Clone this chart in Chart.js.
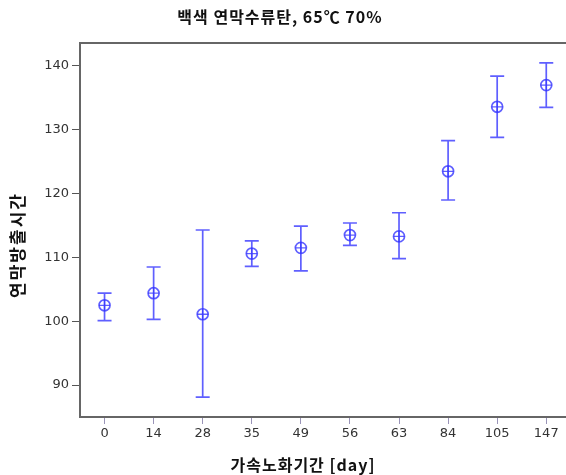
<!DOCTYPE html>
<html>
<head>
<meta charset="utf-8">
<script src="https://cdn.jsdelivr.net/npm/chart.js@4"></script>
<style>
    body { margin: 0; overflow: hidden; background: #fff; }
    #wrap { position: relative; width: 578px; height: 475px; }
</style>
</head>
<body>
<div id="wrap"><canvas id="chart"></canvas></div>
<script>
// 가속노화기간 (day)
const days = ["0", "14", "28", "35", "49", "56", "63", "84", "105", "147"];
// 연막방출시간 평균 / 하한 / 상한
const meanTime = [102.5, 104.4, 101.1, 110.6, 111.5, 113.5, 113.3, 123.5, 133.6, 137.0];
const lowTime  = [100.1, 100.3, 88.1, 108.6, 107.9, 111.9, 109.8, 119.0, 128.8, 133.5];
const highTime = [104.4, 108.5, 114.3, 112.6, 114.9, 115.4, 117.0, 128.3, 138.4, 140.5];
const yTicks = [90, 100, 110, 120, 130, 140];

const blue = "rgba(55, 55, 255, 0.8)";

// 에러바 그리기
const errorBars = {
    id: "errorBars",
    beforeDatasetsDraw(chart) {
        const { ctx, scales: { x, y } } = chart;
        ctx.save();
        ctx.strokeStyle = blue;
        ctx.lineWidth = 1.7;
        days.forEach((d, i) => {
            const px = x.getPixelForValue(i);
            const top = y.getPixelForValue(highTime[i]);
            const bot = y.getPixelForValue(lowTime[i]);
            ctx.beginPath();
            ctx.moveTo(px, top); ctx.lineTo(px, bot);
            ctx.moveTo(px - 7, top); ctx.lineTo(px + 7, top);
            ctx.moveTo(px - 7, bot); ctx.lineTo(px + 7, bot);
            ctx.stroke();
        });
        ctx.restore();
    }
};

// 제목, 축 제목, 위쪽 테두리
const labels = {
    id: "labels",
    afterDraw(chart) {
        const { ctx, chartArea } = chart;
        ctx.save();
        ctx.strokeStyle = "#666";
        ctx.lineWidth = 2;
        ctx.beginPath();
        ctx.moveTo(chartArea.left - 1, chartArea.top);
        ctx.lineTo(chartArea.right, chartArea.top);
        ctx.stroke();

        ctx.fillStyle = "#111";
        ctx.textAlign = "center";
        ctx.textBaseline = "middle";
        ctx.letterSpacing = "1px";
        ctx.font = "bold 16px 'Noto Sans CJK KR'";
        ctx.fillText("백색 연막수류탄, 65℃ 70%", 280, 17);

        ctx.font = "bold 16px 'Noto Sans CJK KR'";
        ctx.fillText("가속노화기간 [day]", 303, 465);

        ctx.translate(18, 245);
        ctx.rotate(-Math.PI / 2);
        ctx.letterSpacing = "2px";
        ctx.font = "bold 17px 'Noto Sans CJK KR'";
        ctx.fillText("연막방출시간", 0, 0);
        ctx.restore();
    }
};

new Chart(document.getElementById("chart"), {
    type: "line",
    data: {
        labels: days,
        datasets: [
            {
                data: meanTime,
                showLine: false,
                pointStyle: "circle",
                pointRadius: 5.5,
                pointBorderWidth: 1.7,
                pointBorderColor: blue,
                pointBackgroundColor: "rgba(0,0,0,0)"
            },
            {
                data: meanTime,
                showLine: false,
                pointStyle: "cross",
                pointRadius: 5.5,
                pointBorderWidth: 1.3,
                pointBorderColor: blue
            }
        ]
    },
    options: {
        responsive: true,
        maintainAspectRatio: false,
        animation: false,
        layout: { padding: { top: 43, right: 0, left: 0, bottom: 0 } },
        plugins: {
            legend: { display: false },
            tooltip: { enabled: false },
            title: { display: false }
        },
        scales: {
            x: {
                offset: true,
                afterFit: s => { s.height = 58; },
                grid: { drawOnChartArea: false, drawTicks: true, tickLength: 7, color: "#9a94b8" },
                border: { color: "#666", width: 2 },
                ticks: { color: "#333", font: { family: "DejaVu Sans", size: 13 }, padding: 2, maxRotation: 0 }
            },
            y: {
                min: 85,
                max: 143.6,
                afterBuildTicks: s => { s.ticks = yTicks.map(v => ({ value: v })); },
                afterFit: s => { s.width = 80; },
                grid: { drawOnChartArea: false, drawTicks: true, tickLength: 8, color: "#555" },
                border: { color: "#666", width: 2 },
                ticks: { color: "#333", font: { family: "DejaVu Sans", size: 13 }, padding: 3 }
            }
        }
    },
    plugins: [errorBars, labels]
});
</script>
</body>
</html>
